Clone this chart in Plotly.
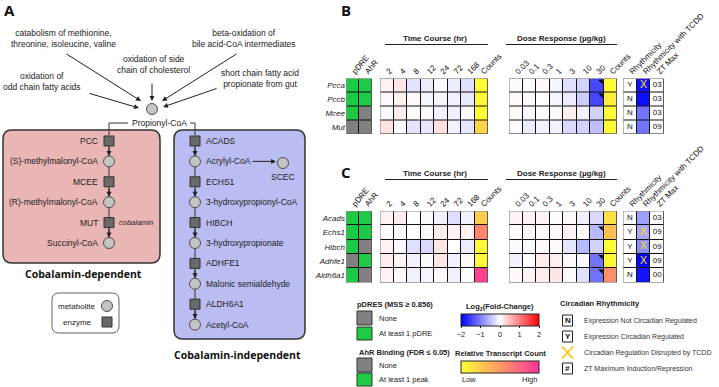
import plotly.graph_objects as go

W, H = 719, 387

# ---------------- data ----------------
time_points = ['2', '4', '8', '12', '24', '72', '168']
doses = ['0.03', '0.1', '0.3', '1', '3', '10', '30']
rhythm_cols = ['Rhythmicity', 'Rhythmicity with TCDD', 'ZT Max']

genes_B = ['Pcca', 'Pccb', 'Mcee', 'Mut']
pdre_B = [1, 1, 1, 0]
ahr_B = [1, 1, 0, 0]
time_fc_B = [
    [0.10, 0.20, -0.22, -0.15, -0.04, -0.15, -0.25],
    [0.05, 0.12, 0.05, -0.08, -0.08, -0.12, -0.18],
    [-0.05, 0.15, 0.05, 0.05, -0.10, -0.12, -0.05],
    [0.22, -0.05, -0.22, -0.20, 0.25, -0.10, -0.20],
]
time_counts_B = [0.02, 0.03, 0.02, 0.22]
dose_fc_B = [
    [-0.03, 0.02, 0.05, -0.08, -0.25, -0.35, -1.45],
    [0.03, 0.05, 0.00, -0.08, -0.15, -0.40, -1.45],
    [0.05, -0.05, -0.02, 0.05, 0.12, -0.10, -0.35],
    [-0.04, -0.15, -0.10, -0.10, -0.30, -0.35, -0.50],
]
dose_counts_B = [0.02, 0.08, 0.02, 0.03]
dose_sig_B = [1, 1, 0, 0]
rhythm_B = ['Y', 'N', 'N', 'N']
tcdd_fc_B = [-1.85, -1.90, -1.10, -1.10]
disrupted_B = [1, 0, 0, 0]
zt_max_B = ['03', '03', '03', '09']

genes_C = ['Acads', 'Echs1', 'Hibch', 'Adhfe1', 'Aldh6a1']
pdre_C = [1, 1, 1, 0, 1]
ahr_C = [1, 1, 0, 1, 0]
time_fc_C = [
    [0.10, 0.15, 0.00, -0.05, -0.10, -0.25, -0.10],
    [-0.03, 0.00, 0.00, 0.05, 0.15, 0.10, 0.10],
    [0.10, -0.05, -0.25, -0.30, 0.20, 0.00, -0.15],
    [0.15, 0.08, -0.10, -0.02, 0.20, -0.10, 0.05],
    [0.10, 0.05, -0.10, -0.08, 0.05, -0.10, 0.00],
]
time_counts_C = [0.25, 0.60, 0.03, 0.03, 0.92]
dose_fc_C = [
    [0.10, 0.10, 0.10, 0.00, 0.05, -0.10, -0.30],
    [0.05, 0.08, 0.08, 0.08, 0.10, 0.03, -0.55],
    [-0.03, -0.03, 0.03, 0.05, -0.20, -0.55, -0.35],
    [-0.10, 0.00, 0.15, 0.12, 0.05, -0.05, -1.10],
    [0.05, 0.10, 0.15, 0.20, 0.05, -0.25, -1.10],
]
dose_counts_C = [0.15, 0.30, 0.02, 0.03, 0.55]
dose_sig_C = [0, 1, 0, 1, 1]
rhythm_C = ['N', 'Y', 'Y', 'Y', 'N']
tcdd_fc_C = [-0.75, -0.70, -0.90, -1.95, -1.85]
disrupted_C = [0, 1, 1, 1, 0]
zt_max_C = ['03', '09', '09', '09', '00']

# pathway schematic
red_nodes = [('PCC', 'enzyme'), ('(S)-methylmalonyl-CoA', 'metabolite'),
             ('MCEE', 'enzyme'), ('(R)-methylmalonyl-CoA', 'metabolite'),
             ('MUT', 'enzyme'), ('Succinyl-CoA', 'metabolite')]
blue_nodes = [('ACADS', 'enzyme'), ('Acrylyl-CoA', 'metabolite'),
              ('ECHS1', 'enzyme'), ('3-hydroxypropionyl-CoA', 'metabolite'),
              ('HIBCH', 'enzyme'), ('3-hydroxypropionate', 'metabolite'),
              ('ADHFE1', 'enzyme'), ('Malonic semialdehyde', 'metabolite'),
              ('ALDH6A1', 'enzyme'), ('Acetyl-CoA', 'metabolite')]
sources = ['catabolism of methionine,<br>threonine, isoleucine, valine',
           'oxidation of side<br>chain of cholesterol',
           'beta-oxidation of<br>bile acid-CoA intermediates',
           'oxidation of<br>odd chain fatty acids',
           'short chain fatty acid<br>propionate from gut']

# ---------------- style ----------------
FC_SCALE = [[0.0, '#0000ff'], [0.5, '#ffffff'], [1.0, '#ff0000']]
COUNT_SCALE = [[0.0, '#ffff33'], [1.0, '#ff3399']]
BIN_SCALE = [[0.0, '#808080'], [0.5, '#808080'], [0.5, '#1ec944'], [1.0, '#1ec944']]
WHITE_SCALE = [[0, '#ffffff'], [1, '#ffffff']]
FONT = 'Liberation Sans, Arial, sans-serif'
BOLD = 'Open Sans, Liberation Sans, sans-serif'
MET_COLOR, MET_LINE = '#c4c4c4', '#4d4d4d'
ENZ_COLOR, ENZ_LINE = '#6a6a6a', '#333333'

fig = go.Figure()
axes = {}
shapes = []
annotations = []


def X(p):
    return p / W


def Y(p):
    return 1 - p / H


def ann(text, x, y, size=8.5, xanchor='center', yanchor='middle', color='#222',
        family=FONT, **kw):
    annotations.append(dict(text=text, x=x, y=y, xref='x', yref='y', showarrow=False,
                            xanchor=xanchor, yanchor=yanchor,
                            font=dict(size=size, color=color, family=family), **kw))


def arrow(x0, y0, x1, y1, width=1):
    annotations.append(dict(text='', x=x1, y=y1, ax=x0, ay=y0, xref='x', yref='y',
                            axref='x', ayref='y', showarrow=True, arrowhead=2,
                            arrowsize=1, arrowwidth=width, arrowcolor='#222'))


def line(x0, y0, x1, y1, color='#333', width=1, layer='above'):
    shapes.append(dict(type='line', xref='x', yref='y', x0=x0, y0=y0, x1=x1, y1=y1,
                       line=dict(color=color, width=width), layer=layer))


def rbox(x0, y0, x1, y1, r, fill, lc='#333', lw=1.5):
    p = (f'M {x0+r},{y0} L {x1-r},{y0} Q {x1},{y0} {x1},{y0+r} L {x1},{y1-r} '
         f'Q {x1},{y1} {x1-r},{y1} L {x0+r},{y1} Q {x0},{y1} {x0},{y1-r} '
         f'L {x0},{y0+r} Q {x0},{y0} {x0+r},{y0} Z')
    shapes.append(dict(type='path', xref='x', yref='y', path=p, fillcolor=fill,
                       line=dict(color=lc, width=lw), layer='below'))


axis_id = [1]


def block_axes(x0, x1, y0, y1, ncol, nrow, ticktext=None, tickangle=-45, yticktext=None):
    axis_id[0] += 1
    i = axis_id[0]
    xa = dict(domain=[X(x0), X(x1)], anchor=f'y{i}', range=[-0.5, ncol - 0.5],
              showgrid=False, zeroline=False, showline=False, ticks='',
              automargin=False, fixedrange=True)
    if ticktext:
        xa.update(side='top', tickmode='array', tickvals=list(range(ncol)),
                  ticktext=ticktext, tickangle=tickangle,
                  tickfont=dict(size=8, color='#111', family=FONT))
    else:
        xa.update(showticklabels=False)
    ya = dict(domain=[Y(y1), Y(y0)], anchor=f'x{i}', range=[nrow - 0.5, -0.5],
              showgrid=False, zeroline=False, showline=False, ticks='',
              automargin=False, fixedrange=True)
    if yticktext:
        ya.update(tickmode='array', tickvals=list(range(nrow)), ticktext=yticktext,
                  tickfont=dict(size=8, color='#222', family=FONT))
    else:
        ya.update(showticklabels=False)
    axes[f'xaxis{i}'] = xa
    axes[f'yaxis{i}'] = ya
    shapes.append(dict(type='rect', xref=f'x{i}', yref=f'y{i}', x0=-0.5, x1=ncol - 0.5,
                       y0=-0.5, y1=nrow - 0.5, fillcolor='#111', line=dict(width=0),
                       layer='below'))
    shapes.append(dict(type='rect', xref=f'x{i}', yref=f'y{i}', x0=-0.5, x1=ncol - 0.5,
                       y0=-0.5, y1=nrow - 0.5, fillcolor='rgba(0,0,0,0)',
                       line=dict(color='#8c8c8c', width=1.2), layer='above'))
    return f'x{i}', f'y{i}'


def hm(z, xa, ya, scale, zmin, zmax, showscale=False, colorbar=None):
    fig.add_trace(go.Heatmap(z=z, x0=0, dx=1, y0=0, dy=1, colorscale=scale, zmin=zmin,
                             zmax=zmax, showscale=showscale, colorbar=colorbar,
                             xgap=1, ygap=1, xaxis=xa, yaxis=ya, hoverinfo='skip'))


def panel(genes, pdre, ahr, tfc, tcounts, dfc, dcounts, dsig, rhythm, tcdd,
          disrupted, ztmax, top, bottom, head_y, show_scale):
    n = len(genes)
    xa, ya = block_axes(346, 372, top, bottom, 2, n, ['pDRE', 'AhR'], -50,
                        [f'<i>{g}</i>' for g in genes])
    hm([[p, a] for p, a in zip(pdre, ahr)], xa, ya, BIN_SCALE, 0, 1)

    cb_fc = cb_ct = None
    if show_scale:
        cb_fc = dict(orientation='h', x=X(500), xanchor='center', y=Y(314), yanchor='top',
                     len=78, lenmode='pixels', thickness=12, thicknessmode='pixels',
                     xpad=0, ypad=0, outlinewidth=1, outlinecolor='#222',
                     tickmode='array', tickvals=[-2, -1, 0, 1, 2],
                     ticktext=['\u22122', '\u22121', '0', '1', '2'], ticks='outside',
                     ticklen=2, tickcolor='#222',
                     tickfont=dict(size=7.5, color='#222', family=FONT))
        cb_ct = dict(orientation='h', x=X(500), xanchor='center', y=Y(361), yanchor='top',
                     len=78, lenmode='pixels', thickness=12, thicknessmode='pixels',
                     xpad=0, ypad=0, outlinewidth=1, outlinecolor='#222',
                     showticklabels=False, ticks='')

    xa, ya = block_axes(380, 488, top, bottom, 8, n, time_points + ['Counts'])
    hm([row + [None] for row in tfc], xa, ya, FC_SCALE, -2, 2, show_scale, cb_fc)
    hm([[None] * 7 + [c] for c in tcounts], xa, ya, COUNT_SCALE, 0, 1, show_scale, cb_ct)

    xa, ya = block_axes(509, 617, top, bottom, 8, n, doses + ['Counts'])
    hm([row + [None] for row in dfc], xa, ya, FC_SCALE, -2, 2)
    hm([[None] * 7 + [c] for c in dcounts], xa, ya, COUNT_SCALE, 0, 1)
    sig_rows = [r for r, s in enumerate(dsig) if s]
    fig.add_trace(go.Scatter(x=[6.33] * len(sig_rows), y=[r - 0.31 for r in sig_rows],
                             mode='markers', marker=dict(symbol='triangle-ne', size=5,
                                                         color='#000', line=dict(width=0)),
                             xaxis=xa, yaxis=ya, hoverinfo='skip'))

    xa, ya = block_axes(623, 664, top, bottom, 3, n, rhythm_cols)
    hm([[0, None, 0] for _ in genes], xa, ya, WHITE_SCALE, 0, 1)
    hm([[None, v, None] for v in tcdd], xa, ya, FC_SCALE, -2, 2)
    fig.add_trace(go.Scatter(x=[0] * n, y=list(range(n)), text=rhythm, mode='text',
                             textfont=dict(size=8, color='#111', family=FONT),
                             xaxis=xa, yaxis=ya, hoverinfo='skip'))
    fig.add_trace(go.Scatter(x=[2] * n, y=list(range(n)), text=ztmax, mode='text',
                             textfont=dict(size=8, color='#111', family=FONT),
                             xaxis=xa, yaxis=ya, hoverinfo='skip'))
    xr = [r for r, d in enumerate(disrupted) if d]
    fig.add_trace(go.Scatter(x=[1] * len(xr), y=xr, text=['X'] * len(xr), mode='text',
                             textfont=dict(size=10.5, color='#ffe100', family=FONT),
                             xaxis=xa, yaxis=ya, hoverinfo='skip'))

    ann('<b>Time Course (hr)</b>', 435, head_y, size=8)
    line(385, head_y + 6.5, 488, head_y + 6.5, color='#222', width=1)
    ann('<b>Dose Response (\u00b5g/kg)</b>', 561, head_y, size=8)
    line(506, head_y + 6.5, 617, head_y + 6.5, color='#222', width=1)


# ---------------- panel A: schematic ----------------
fig.add_trace(go.Scatter(x=[], y=[], xaxis='x', yaxis='y', hoverinfo='skip'))
ann('<b>A</b>', 2, 10, size=15, xanchor='left', family=BOLD, color='#111')
ann('<b>B</b>', 339, 10, size=15, xanchor='left', family=BOLD, color='#111')
ann('<b>C</b>', 339, 172, size=15, xanchor='left', family=BOLD, color='#111')

src_pos = [(63, 38.5), (153, 64), (243, 38.5), (42, 81.5), (260, 78.5)]
for t, (sx, sy) in zip(sources, src_pos):
    ann(t, sx, sy, size=8.5)
arrow(65, 53, 141, 101)
arrow(152, 82, 152, 101)
arrow(238, 53, 162, 101)
arrow(88, 93, 139, 108)
arrow(218, 88, 163, 107)

rbox(3, 130, 160, 263, 9, '#e9b5b5')
rbox(174, 130, 305, 339, 9, '#b9bdf1')
rbox(52, 293, 119, 333, 7, '#ffffff', lc='#666', lw=1)

ann('Propionyl-CoA', 159, 123, size=8.5)
line(128, 123, 109, 123, width=1)
line(109, 123, 109, 135, width=1)
line(190, 123, 195, 123, width=1)
line(195, 123, 195, 135, width=1)

STEP, Y0 = 20.4, 141
for nodes, cx, lab_x, anchor in [(red_nodes, 109, 100, 'right'),
                                  (blue_nodes, 195, 204, 'left')]:
    ys = [Y0 + STEP * k for k in range(len(nodes))]
    line(cx, ys[0], cx, ys[-1], color='#333', width=1, layer='below')
    for k in range(len(nodes) - 1):
        if nodes[k][1] == 'enzyme':
            arrow(cx, ys[k] + 5, cx, ys[k + 1] - 5.5)
    for kind, sym, size, fc, lc in [('metabolite', 'circle', 11, MET_COLOR, MET_LINE),
                                    ('enzyme', 'square', 10, ENZ_COLOR, ENZ_LINE)]:
        yy = [y for (nm, kd), y in zip(nodes, ys) if kd == kind]
        fig.add_trace(go.Scatter(x=[cx] * len(yy), y=yy, mode='markers',
                                 marker=dict(symbol=sym, size=size, color=fc,
                                             line=dict(color=lc, width=1)),
                                 xaxis='x', yaxis='y', hoverinfo='skip'))
    for (nm, kd), y in zip(nodes, ys):
        ann(nm, lab_x, y, size=8.5, xanchor=anchor)

ann('<i>cobalamin</i>', 117, Y0 + STEP * 4, size=7.5, xanchor='left')

# propionyl-CoA, SCEC and legend glyphs
fig.add_trace(go.Scatter(x=[152, 283, 107], y=[109, 163, 306], mode='markers',
                         marker=dict(symbol='circle', size=11, color=MET_COLOR,
                                     line=dict(color=MET_LINE, width=1)),
                         xaxis='x', yaxis='y', hoverinfo='skip'))
fig.add_trace(go.Scatter(x=[107], y=[322], mode='markers',
                         marker=dict(symbol='square', size=10, color=ENZ_COLOR,
                                     line=dict(color=ENZ_LINE, width=1)),
                         xaxis='x', yaxis='y', hoverinfo='skip'))
arrow(251, Y0 + STEP, 276, Y0 + STEP)
ann('SCEC', 283, 177, size=8.5)
ann('metabolite', 97, 306, size=8, xanchor='right')
ann('enzyme', 94, 322, size=8, xanchor='right')
ann('<b>Cobalamin-dependent</b>', 83, 274, size=10.5, family=BOLD, color='#111')
ann('<b>Cobalamin-independent</b>', 237, 355, size=10.5, family=BOLD, color='#111')

# ---------------- panels B and C ----------------
panel(genes_B, pdre_B, ahr_B, time_fc_B, time_counts_B, dose_fc_B, dose_counts_B,
      dose_sig_B, rhythm_B, tcdd_fc_B, disrupted_B, zt_max_B, 78.5, 134, 38, True)
panel(genes_C, pdre_C, ahr_C, time_fc_C, time_counts_C, dose_fc_C, dose_counts_C,
      dose_sig_C, rhythm_C, tcdd_fc_C, disrupted_C, zt_max_C, 211, 282.5, 173, False)

# ---------------- legends ----------------
ann('<b>pDRES (MSS \u2265 0.856)</b>', 355, 304, size=7.5, xanchor='left')
ann('<b>AhR Binding (FDR \u2264 0.05)</b>', 357, 352, size=7.5, xanchor='left')
for (y0, y1, col, txt) in [(311, 325, '#808080', 'None'), (327, 340, '#1ec944', 'At least 1 pDRE'),
                           (358, 372, '#808080', 'None'), (373, 386, '#1ec944', 'At least 1 peak')]:
    shapes.append(dict(type='rect', xref='x', yref='y', x0=357, x1=372, y0=y0, y1=y1,
                       fillcolor=col, line=dict(color='#333', width=1)))
    ann(txt, 377, (y0 + y1) / 2, size=7.5, xanchor='left')

ann('<b>Log<sub>2</sub>(Fold-Change)</b>', 500, 307, size=7.5)
ann('<b>Relative Transcript Count</b>', 500, 353, size=7.5)
ann('Low', 460, 379, size=7.5, xanchor='left')
ann('High', 539, 379, size=7.5, xanchor='right')

ann('<b>Circadian Rhythmicity</b>', 558, 303, size=7.5, xanchor='left')
circ_items = [('N', 'Expression Not Circadian Regulated'),
              ('Y', 'Expression Circadian Regulated'),
              ('', 'Circadian Regulation Disrupted by TCDD'),
              ('#', 'ZT Maximum Induction/Repression')]
for k, (sym, txt) in enumerate(circ_items):
    cy = 320.5 + 16 * k
    if sym:
        shapes.append(dict(type='rect', xref='x', yref='y', x0=562.5, x1=572.5,
                           y0=cy - 5.5, y1=cy + 5.5, fillcolor='#fff',
                           line=dict(color='#222', width=1)))
        ann(f'<b>{sym}</b>', 567.5, cy, size=8, color='#111')
    else:
        line(562, cy - 6, 573, cy + 6, color='#ffc000', width=1.5)
        line(562, cy + 6, 573, cy - 6, color='#ffc000', width=1.5)
    ann(txt, 582, cy, size=7, xanchor='left', color='#333')

fig.update_layout(
    width=W, height=H, margin=dict(l=0, r=0, t=0, b=0), template='none',
    paper_bgcolor='white', plot_bgcolor='white', showlegend=False,
    font=dict(family=FONT, size=8, color='#222'),
    xaxis=dict(domain=[0, 1], range=[0, W], visible=False, fixedrange=True, automargin=False),
    yaxis=dict(domain=[0, 1], range=[H, 0], visible=False, fixedrange=True, automargin=False),
    shapes=shapes, annotations=annotations, **axes)

fig.write_html('out.html', config={'displayModeBar': False},
               post_script="document.body.style.margin='0';document.body.style.overflow='hidden';")
